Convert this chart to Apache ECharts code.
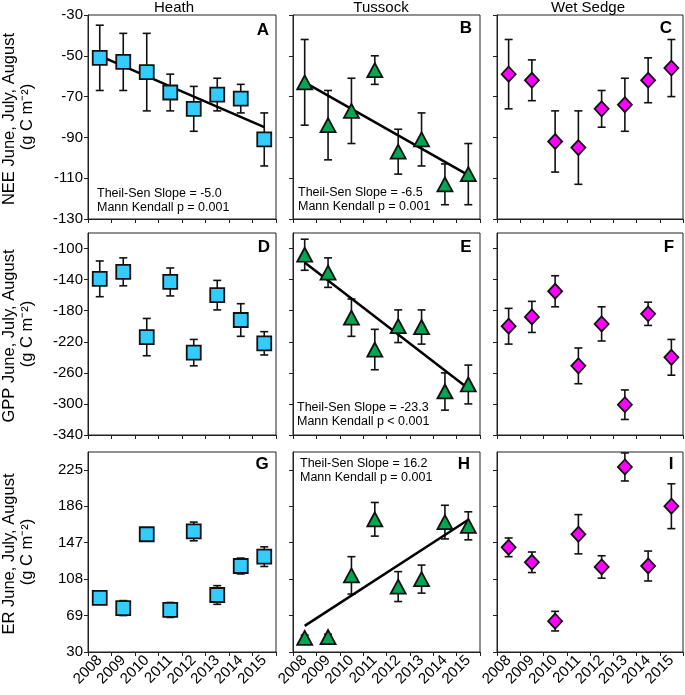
<!DOCTYPE html>
<html><head><meta charset="utf-8">
<script src="https://cdn.jsdelivr.net/npm/echarts@6/dist/echarts.min.js"></script>
<style>html,body{margin:0;padding:0;background:#fff}#c{width:685px;height:695px}</style>
</head><body><div id="c"></div><script>
// ---- data ----
const years = ['2008','2009','2010','2011','2012','2013','2014','2015'];
const columns = ['Heath','Tussock','Wet Sedge'];
const panelLetters = ['A','B','C','D','E','F','G','H','I'];
const rowNames = ['NEE June, July, August','GPP June, July, August','ER June, July, August'];
const unitName = '(g C m\u207B\u00B2)';

const neeHeath = [-51, -53, -58, -68, -76, -69, -71, -91];
const neeHeathErr = [16, 14, 19, 9, 11, 8, 7, 13];
const neeTussock = [-63, -84, -77, -57, -97, -91, -113, -108];
const neeTussockErr = [21, 17, 16, 7, 11, 13, 10, 15];
const neeSedge = [-59, -62, -92, -95, -76, -74, -62, -56];
const neeSedgeErr = [17, 10, 15, 18, 9, 13, 11, 14];

const gppHeath = [-139, -130, -214, -143, -234, -160, -192, -222];
const gppHeathErr = [23, 18, 24, 18, 17, 19, 21, 15];
const gppTussock = [-108, -131, -189, -230, -200, -201, -284, -275];
const gppTussockErr = [20, 19, 24, 26, 21, 22, 24, 25];
const gppSedge = [-200, -188, -155, -251, -197, -301, -184, -240];
const gppSedgeErr = [23, 20, 20, 23, 22, 19, 15, 23];

const erHeath = [88, 77, 156, 75, 159, 91, 122, 132];
const erHeathErr = [6.5, 8, 3, 8, 10, 10, 8.5, 10.5];
const erTussock = [45, 46, 112, 172, 100, 108, 169, 165];
const erTussockErr = [3, 3, 20, 18, 16, 15, 18, 15];
const erSedge = [142, 126, 63, 156, 121, 228, 122, 186];
const erSedgeErr = [10, 11, 10.5, 21, 12, 15, 16, 24];

// trend lines (Theil-Sen), endpoints at 2008 and 2015
const trendNeeHeath = [-50, -85];
const trendNeeTussock = [-63, -108.5];
const trendGppTussock = [-118, -280];
const trendErTussock = [58, 171.5];

const statNeeHeath = ['Theil-Sen Slope = -5.0', 'Mann Kendall p = 0.001'];
const statNeeTussock = ['Theil-Sen Slope = -6.5', 'Mann Kendall p = 0.001'];
const statGppTussock = ['Theil-Sen Slope = -23.3', 'Mann Kendall p < 0.001'];
const statErTussock = ['Theil-Sen Slope = 16.2', 'Mann Kendall p = 0.001'];

const ticksNee = [-130, -110, -90, -70, -50, -30];
const ticksGpp = [-340, -300, -260, -220, -180, -140, -100];
const ticksEr = [30, 69, 108, 147, 186, 225];
const rangeNee = [-130, -30];
const rangeGpp = [-340, -80];
const rangeEr = [30, 244];

// ---- layout ----
const colLeft = [88, 293, 497];
const colWidth = [188, 187, 186];
const rowTop = [15, 233, 452];
const rowHeight = [204, 202, 200];
const FONT = 'Liberation Sans, Arial, sans-serif';

const vals = [[neeHeath, neeTussock, neeSedge],[gppHeath, gppTussock, gppSedge],[erHeath, erTussock, erSedge]];
const errs = [[neeHeathErr, neeTussockErr, neeSedgeErr],[gppHeathErr, gppTussockErr, gppSedgeErr],[erHeathErr, erTussockErr, erSedgeErr]];
const ticks = [ticksNee, ticksGpp, ticksEr];
const ranges = [rangeNee, rangeGpp, rangeEr];
const symbols = ['rect', 'triangle', 'diamond'];
const symSizes = [14, [15, 14], [14, 15]];
const colors = ['#33CCFF', '#00A651', '#FF00FF'];
const trends = {'0-0': trendNeeHeath, '0-1': trendNeeTussock, '1-1': trendGppTussock, '2-1': trendErTussock};

const grid = [], xAxis = [], yAxis = [], series = [];
function errRender(params, api) {
  const x = api.value(0);
  const lo = api.coord([x, api.value(1)]);
  const hi = api.coord([x, api.value(2)]);
  const w = 4;
  const style = {stroke: '#111', lineWidth: 1.6, fill: null};
  return {type: 'group', children: [
    {type: 'line', shape: {x1: lo[0], y1: lo[1], x2: hi[0], y2: hi[1]}, style},
    {type: 'line', shape: {x1: lo[0]-w, y1: lo[1], x2: lo[0]+w, y2: lo[1]}, style},
    {type: 'line', shape: {x1: hi[0]-w, y1: hi[1], x2: hi[0]+w, y2: hi[1]}, style}
  ]};
}
let gi = 0;
for (let r = 0; r < 3; r++) {
  for (let c = 0; c < 3; c++) {
    grid.push({left: colLeft[c], top: rowTop[r], width: colWidth[c], height: rowHeight[r],
      show: true, borderColor: '#222', borderWidth: 1, backgroundColor: 'transparent'});
    xAxis.push({type: 'category', gridIndex: gi, data: years, boundaryGap: true,
      axisLine: {show: true, lineStyle: {color: '#222', width: 1}},
      axisTick: {show: true, length: 4, lineStyle: {color: '#222'}},
      axisLabel: {show: r === 2, rotate: 45, fontSize: 15, color: '#000', fontFamily: FONT, margin: 6, interval: 0},
      splitLine: {show: false}});
    yAxis.push({type: 'value', gridIndex: gi, min: ranges[r][0], max: ranges[r][1],
      axisLine: {show: true, lineStyle: {color: '#222', width: 1}},
      axisTick: {show: true, length: 4, inside: false, customValues: ticks[r], lineStyle: {color: '#222'}},
      axisLabel: {show: c === 0, customValues: ticks[r], fontSize: 15, color: '#000', fontFamily: FONT, margin: 5},
      splitLine: {show: false}});
    const v = vals[r][c], e = errs[r][c];
    series.push({type: 'custom', xAxisIndex: gi, yAxisIndex: gi, renderItem: errRender, z: 2,
      encode: {x: 0, y: [1, 2]}, clip: false,
      data: v.map((d, i) => [i, d - e[i], d + e[i]])});
    const t = trends[r + '-' + c];
    if (t) {
      series.push({type: 'line', xAxisIndex: gi, yAxisIndex: gi, z: 3, symbol: 'none',
        lineStyle: {color: '#000', width: 2.5}, silent: true,
        data: [[years[0], t[0]], [years[years.length-1], t[1]]]});
    }
    series.push({type: 'scatter', xAxisIndex: gi, yAxisIndex: gi, z: 4, symbol: symbols[c], symbolSize: symSizes[c],
      itemStyle: {color: colors[c], borderColor: '#111', borderWidth: 1.8, opacity: 1},
      data: v.map((d, i) => [years[i], d])});
    gi++;
  }
}

const graphic = [];
const titleX = [174, 381, 588];
columns.forEach((t, i) => graphic.push({type: 'text', x: titleX[i], y: 7.5,
  style: {text: t, font: '15px ' + FONT, fill: '#000', textAlign: 'center', textVerticalAlign: 'middle'}}));
const letterPos = [[263, 30], [466, 28], [666, 28], [264, 247], [466, 247], [669, 247], [262, 464], [464, 464], [671, 464]];
panelLetters.forEach((l, i) => graphic.push({type: 'text', x: letterPos[i][0], y: letterPos[i][1],
  style: {text: l, font: 'bold 17px ' + FONT, fill: '#000', textAlign: 'center', textVerticalAlign: 'middle'}}));
const stats = [[statNeeHeath, 97, 193], [statNeeTussock, 298, 192], [statGppTussock, 297, 407], [statErTussock, 300, 463]];
stats.forEach(s => graphic.push({type: 'text', x: s[1], y: s[2] - 7,
  style: {text: s[0].join('\n'), font: '12.5px ' + FONT, fill: '#000', textAlign: 'left', textVerticalAlign: 'top', lineHeight: 14.5}, z: 10}));
rowNames.forEach((n, r) => {
  const cy = rowTop[r] + rowHeight[r] / 2 + 2;
  graphic.push({type: 'text', x: 9, y: cy, rotation: Math.PI / 2,
    style: {text: n, font: '16.5px ' + FONT, fill: '#000', textAlign: 'center', textVerticalAlign: 'middle'}});
  graphic.push({type: 'text', x: 27, y: cy - 2, rotation: Math.PI / 2,
    style: {text: unitName, font: '16.5px ' + FONT, fill: '#000', textAlign: 'center', textVerticalAlign: 'middle'}});
});

const chart = echarts.init(document.getElementById('c'), null, {renderer: 'canvas'});
chart.setOption({animation: false, backgroundColor: '#fff', grid, xAxis, yAxis, series, graphic});
</script></body></html>
